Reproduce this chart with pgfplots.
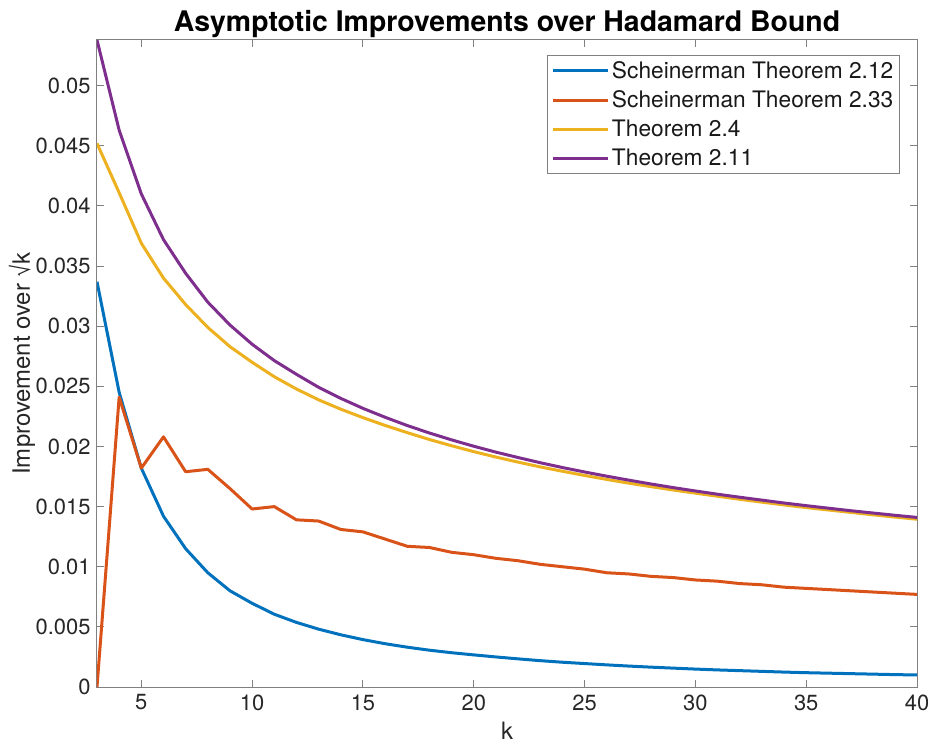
\documentclass[border=0pt]{standalone}
\usepackage{pgfplots}
\pgfplotsset{compat=1.18}
\usepackage{pgfplotstable}
\usepackage{fontspec}
\setmainfont{TeX Gyre Heros}

\definecolor{mblue}{rgb}{0,0.447,0.741}
\definecolor{morange}{rgb}{0.850,0.325,0.098}
\definecolor{myellow}{rgb}{0.929,0.694,0.125}
\definecolor{mpurple}{rgb}{0.494,0.184,0.556}
\definecolor{axgray}{rgb}{0.5,0.5,0.5}

% k, Scheinerman 2.12, Scheinerman 2.33, Theorem 2.4, Theorem 2.11
\pgfplotstableread{
k  sa       sb      ta       tb
3  0.0337   0.0000  0.0452   0.0538
4  0.0245   0.0241  0.0411   0.0463
5  0.0182   0.0182  0.0369   0.0410
6  0.0142   0.0208  0.0340   0.0372
7  0.0115   0.0179  0.0318   0.0344
8  0.0095   0.0181  0.0299   0.0320
9  0.0080   0.0165  0.0283   0.0301
10 0.00696  0.0148  0.0270   0.0285
11 0.00605  0.0150  0.0258   0.02714
12 0.00537  0.0139  0.02478  0.02600
13 0.00481  0.0138  0.02388  0.02492
14 0.00434  0.0131  0.02310  0.02400
15 0.00394  0.0129  0.02240  0.02317
16 0.00360  0.0123  0.02175  0.02243
17 0.00331  0.0117  0.02115  0.02174
18 0.00306  0.0116  0.02058  0.02112
19 0.00285  0.0112  0.02006  0.02055
20 0.00267  0.0110  0.01957  0.02002
21 0.00250  0.0107  0.01912  0.01953
22 0.00234  0.0105  0.01870  0.01908
23 0.00219  0.0102  0.01830  0.01865
24 0.00206  0.0100  0.01794  0.01825
25 0.00195  0.0098  0.01759  0.01788
26 0.00184  0.0095  0.01726  0.01753
27 0.00174  0.0094  0.01695  0.01720
28 0.00165  0.0092  0.01666  0.01688
29 0.00157  0.0091  0.01638  0.01658
30 0.00149  0.0089  0.01612  0.01630
31 0.00142  0.0088  0.01586  0.01603
32 0.00136  0.0086  0.01561  0.01578
33 0.00130  0.0085  0.01537  0.01554
34 0.00124  0.0083  0.01514  0.01530
35 0.00119  0.0082  0.01492  0.01508
36 0.00115  0.0081  0.01472  0.01487
37 0.00111  0.0080  0.01452  0.01466
38 0.00107  0.0079  0.01432  0.01447
39 0.00103  0.0078  0.01413  0.01428
40 0.00100  0.0077  0.01395  0.01410
}\bounds

\begin{document}
\begin{tikzpicture}
\begin{axis}[
    scale only axis,
    width=820bp, height=647bp,
    xmin=3, xmax=40,
    ymin=0, ymax=0.0538,
    xtick={5,10,15,20,25,30,35,40},
    ytick={0,0.005,0.01,0.015,0.02,0.025,0.03,0.035,0.04,0.045,0.05},
    scaled y ticks=false,
    yticklabel style={/pgf/number format/fixed, /pgf/number format/precision=3, xshift=-3bp},
    xticklabel style={yshift=-4bp},
    /pgf/number format/assume math mode=true,
    tick align=inside,
    major tick length=7bp,
    axis line style={axgray, line width=1bp},
    every tick/.style={axgray, line width=1bp},
    tick label style={font=\fontsize{22}{25}\selectfont, text=black!85},
    title={\textbf{Asymptotic Improvements over Hadamard Bound}},
    title style={font=\fontsize{28.5}{31}\selectfont, at={(axis description cs:0.5,1)}, anchor=center, yshift=10bp},
    xlabel={k},
    ylabel={Improvement over √k},
    every axis x label/.style={at={(axis description cs:0.5,0)}, anchor=center, yshift=-44bp,
        font=\fontsize{24}{27}\selectfont, text=black!85},
    every axis y label/.style={at={(axis description cs:0,0.5)}, anchor=center, rotate=90, yshift=75bp,
        font=\fontsize{24}{27}\selectfont, text=black!85},
    legend style={at={(0.979,0.977)}, anchor=north east, draw=axgray, line width=1bp,
        font=\fontsize{22.8}{26}\selectfont, text=black!90, cells={anchor=west},
        inner xsep=4bp, inner ysep=4bp, row sep=7bp},
    legend image code/.code={\draw[#1, line width=3bp] (0bp,0bp) -- (55bp,0bp);},
]
\addplot[mblue, line width=3bp, line join=round] table[x=k, y=sa] {\bounds};
\addplot[morange, line width=3bp, line join=round] table[x=k, y=sb] {\bounds};
\addplot[myellow, line width=3bp, line join=round] table[x=k, y=ta] {\bounds};
\addplot[mpurple, line width=3bp, line join=round] table[x=k, y=tb] {\bounds};
\legend{Scheinerman Theorem 2.12, Scheinerman Theorem 2.33, Theorem 2.4, Theorem 2.11}
\coordinate (ll) at (rel axis cs:0,0);
\coordinate (ur) at (rel axis cs:1,1);
\end{axis}
\pgfresetboundingbox
\path[use as bounding box] ([xshift=-97bp,yshift=-57bp]ll) rectangle ([xshift=11bp,yshift=40bp]ur);
\end{tikzpicture}
\end{document}
